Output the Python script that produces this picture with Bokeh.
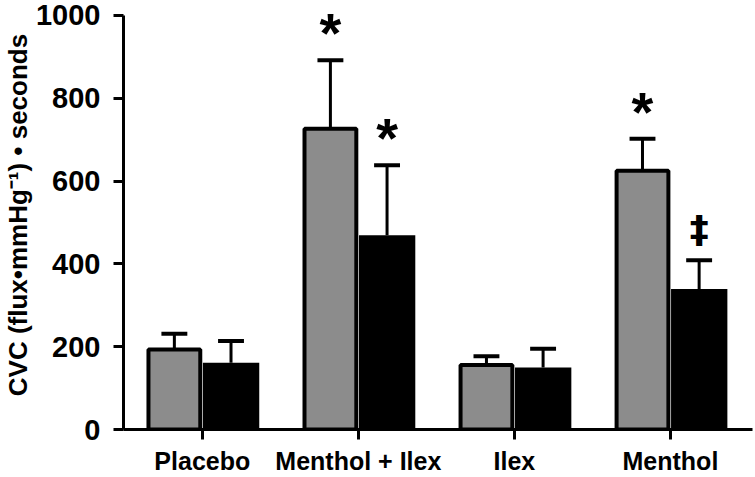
import math
from bokeh.plotting import figure
from bokeh.models import Range1d, FixedTicker, Title
from bokeh.core.properties import value
from bokeh.embed import file_html
from bokeh.resources import INLINE

categories = ["Placebo", "Menthol + Ilex", "Ilex", "Menthol"]
grey_mean = [193, 726, 156, 625]
grey_err_top = [231, 892, 177, 702]
black_mean = [161, 469, 150, 339]
black_err_top = [214, 638, 195, 409]
grey_marks = ["", "*", "", "*"]
black_marks = ["", "*", "", "\u2021"]
y_ticks = [0, 200, 400, 600, 800, 1000]
y_title = "CVC (flux\u2022mmHg\u207b\u00b9) \u2022 seconds"

FONT = "Liberation Sans"
xs = list(range(len(categories)))

p = figure(width=755, height=477, x_range=Range1d(-0.505, 3.526), y_range=Range1d(0, 1036),
           output_backend="svg", toolbar_location=None,
           min_border_left=122, min_border_right=3, min_border_top=0, min_border_bottom=46)
p.grid.visible = False
p.outline_line_color = None

for ax in (p.xaxis, p.yaxis):
    ax.axis_line_width = 3
    ax.axis_line_color = "black"
    ax.major_tick_line_width = 3
    ax.major_tick_line_color = "black"
    ax.major_tick_out = 10
    ax.major_tick_in = 0
    ax.minor_tick_out = 0
    ax.minor_tick_in = 0
    ax.major_label_text_font = FONT
    ax.major_label_text_font_style = "bold"
    ax.major_label_text_color = "black"

p.xaxis.ticker = FixedTicker(ticks=xs)
p.xaxis.major_label_overrides = {i: c for i, c in zip(xs, categories)}
p.xaxis.major_label_text_font_size = "25px"
p.xaxis.major_label_standoff = 7
p.yaxis.ticker = FixedTicker(ticks=y_ticks)
p.yaxis.bounds = (0, 1000)
p.yaxis.major_label_text_font_size = "29px"
p.yaxis.major_label_standoff = 13

p.add_layout(Title(text=y_title, align="center", offset=10, standoff=0,
                   text_font=FONT, text_font_style="bold", text_font_size="26px",
                   text_color="black"), "left")

gx = [x - 0.179 for x in xs]
bx = [x + 0.184 for x in xs]
cap = 0.083

# error stems and caps
p.segment(x0=gx, y0=grey_mean, x1=gx, y1=grey_err_top, line_color="black", line_width=3)
p.segment(x0=bx, y0=black_mean, x1=bx, y1=black_err_top, line_color="black", line_width=3)
p.segment(x0=[x - cap for x in gx], y0=grey_err_top, x1=[x + cap for x in gx], y1=grey_err_top,
          line_color="black", line_width=4)
p.segment(x0=[x - cap for x in bx], y0=black_err_top, x1=[x + cap for x in bx], y1=black_err_top,
          line_color="black", line_width=4)

# bars
p.quad(left=[x - 0.345 for x in xs], right=[x - 0.013 for x in xs], bottom=0, top=grey_mean,
       fill_color="#8c8c8c", line_color="black", line_width=4)
p.quad(left=[x + 0.004 for x in xs], right=[x + 0.365 for x in xs], bottom=0, top=black_mean,
       fill_color="black", line_color=None)

# significance marks
all_x = gx + bx
all_y = grey_err_top + black_err_top
all_m = grey_marks + black_marks
star_idx = [i for i, m in enumerate(all_m) if m == "*"]
dag_idx = [i for i, m in enumerate(all_m) if m == "\u2021"]
p.text(x=[all_x[i] for i in star_idx], y=[all_y[i] for i in star_idx], text=[all_m[i] for i in star_idx],
       text_font=value(FONT), text_font_style="bold", text_font_size="56px",
       text_align="center", text_baseline="top", y_offset=-59, text_color="black")
p.text(x=[all_x[i] for i in dag_idx], y=[all_y[i] for i in dag_idx], text=[all_m[i] for i in dag_idx],
       text_font=value("DejaVu Sans"), text_font_style="bold", text_font_size="38px",
       text_align="center", text_baseline="middle", y_offset=-31, text_color="black")

open("out.html", "w").write(file_html(p, INLINE))
